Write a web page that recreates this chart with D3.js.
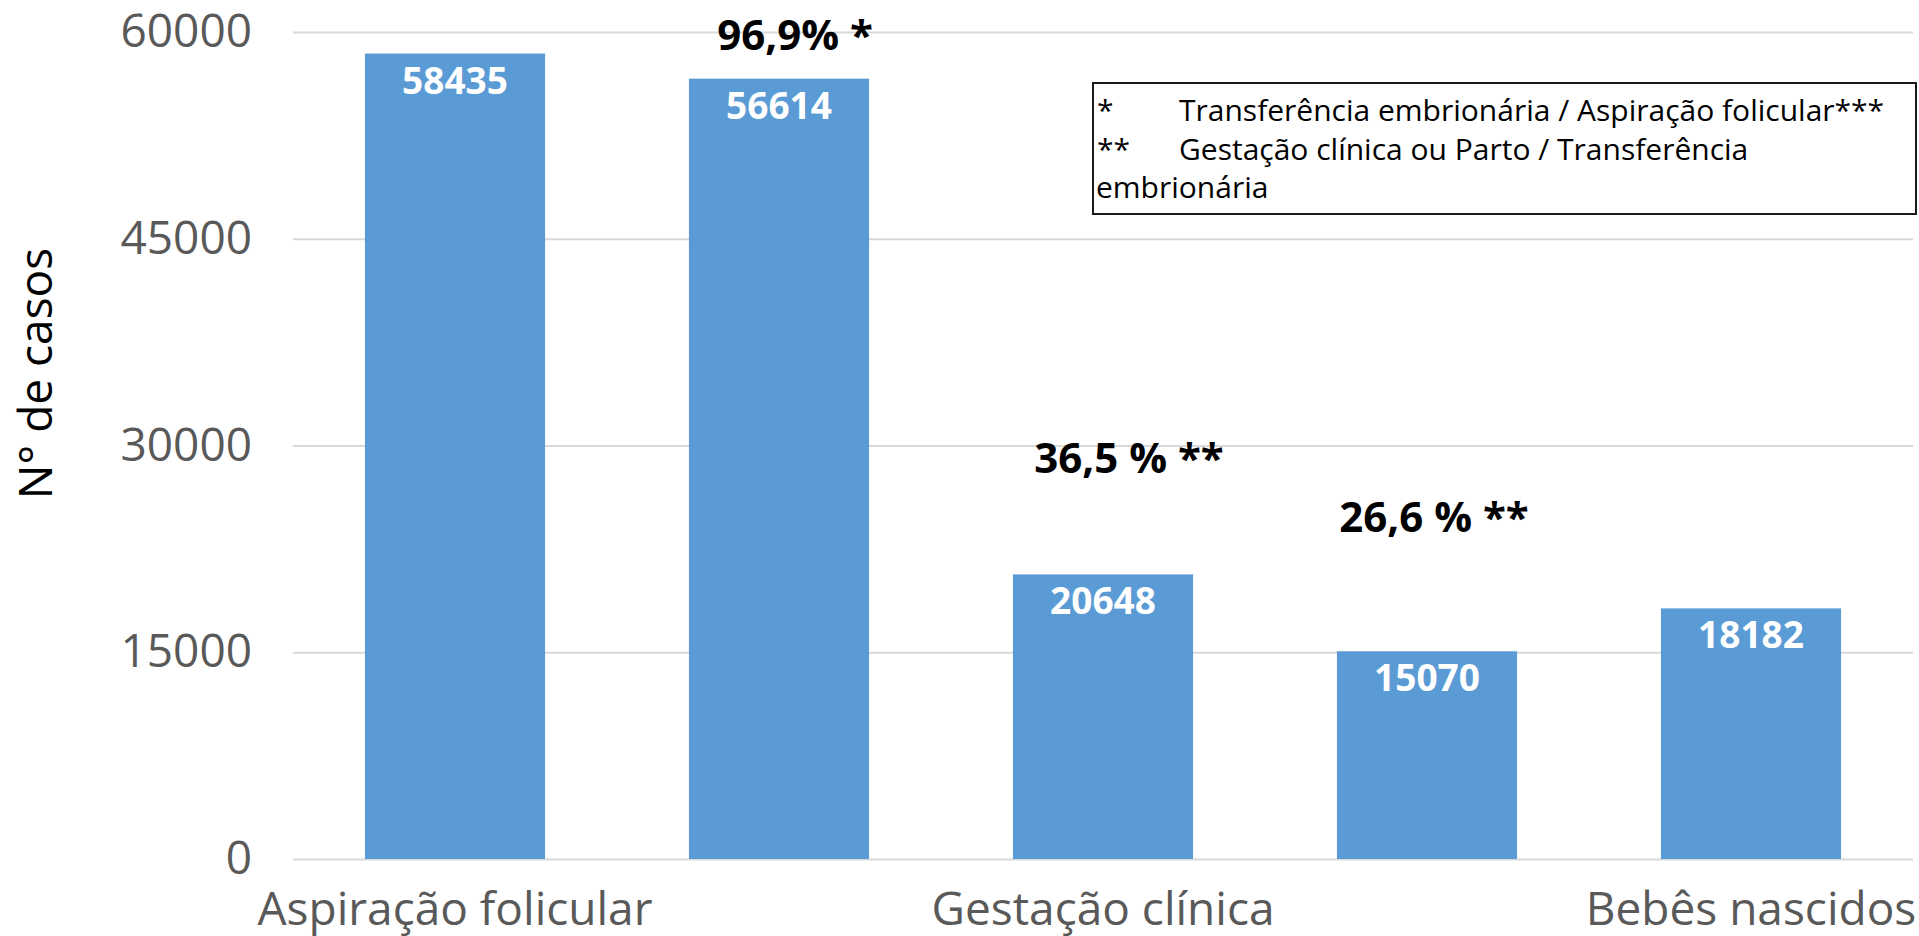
<!DOCTYPE html>
<html>
<head>
<meta charset="utf-8">
<script src="https://cdn.jsdelivr.net/npm/d3@7"></script>
<style>
  body { margin: 0; background: #fff; }
  svg { display: block; font-family: "Open Sans", sans-serif; }
</style>
</head>
<body>
<div id="chart"></div>
<script>
// data
const categories = ["Aspiração folicular", "Transferência embrionária", "Gestação clínica", "Parto", "Bebês nascidos"];
const axisLabels = ["Aspiração folicular", "", "Gestação clínica", "", "Bebês nascidos"];
const casos = [58435, 56614, 20648, 15070, 18182];
const yTicks = [0, 15000, 30000, 45000, 60000];
const rateLabels = ["96,9% *", "36,5 % **", "26,6 % **"];
const rateCategories = ["Transferência embrionária", "Gestação clínica", "Parto"];
const legendMarks = ["*", "**", ""];
const legendLines = ["Transferência embrionária / Aspiração folicular***", "Gestação clínica ou Parto / Transferência", "embrionária"];

// layout
var W = 1919, H = 936;
var plot = {left: 293, right: 1913, top: 32, bottom: 859};
// where the rate notes sit (offset from bar centre, baseline)
var rateLayout = [{dx: 16, y: 50}, {dx: 26, y: 473}, {dx: 7, y: 532}];
var noteBox = {x: 1093, y: 83, w: 1916 - 1093, h: 214 - 83};
var noteLine = {first: 121, step: 38.5, size: 30};

var svg = d3.select("#chart").append("svg")
    .attr("width", W)
    .attr("height", H);

// scales
var x = d3.scaleBand()
    .domain(categories)
    .range([plot.left, plot.right])
    .paddingInner(0.444)
    .paddingOuter(0.222);

var y = d3.scaleLinear()
    .domain([0, 60000])
    .range([plot.bottom, plot.top]);

// gridlines
svg.append("g")
    .attr("transform", "translate(" + plot.left + ",0)")
    .call(d3.axisLeft(y).tickValues(yTicks).tickSize(-(plot.right - plot.left)).tickFormat(""))
    .call(g => g.select(".domain").remove())
    .call(g => g.selectAll("line").attr("stroke", "#d9d9d9").attr("stroke-width", 2));

// y axis labels
svg.append("g")
    .attr("transform", "translate(" + plot.left + ",0)")
    .call(d3.axisLeft(y).tickValues(yTicks).tickSize(0).tickPadding(41).tickFormat(d3.format("d")))
    .call(g => g.select(".domain").remove())
    .call(g => g.selectAll("text")
        .attr("fill", "#595959")
        .style("font-size", "46px")
        .style("font-family", "'Open Sans', sans-serif"));

// x axis labels (Excel skips every other one)
svg.append("g")
    .attr("transform", "translate(0," + plot.bottom + ")")
    .call(d3.axisBottom(x).tickSize(0).tickPadding(33).tickFormat((d, i) => axisLabels[i]))
    .call(g => g.select(".domain").remove())
    .call(g => g.selectAll("text")
        .attr("fill", "#595959")
        .style("font-size", "46px")
        .style("font-family", "'Open Sans', sans-serif"));

// bars
svg.append("g").selectAll("rect")
    .data(casos)
    .join("rect")
    .attr("x", (d, i) => x(categories[i]))
    .attr("y", d => y(d))
    .attr("width", x.bandwidth())
    .attr("height", d => y(0) - y(d))
    .attr("fill", "#5b9bd5");

// values inside the bars
svg.append("g").selectAll("text")
    .data(casos)
    .join("text")
    .attr("x", (d, i) => x(categories[i]) + x.bandwidth() / 2)
    .attr("y", d => y(d) + 40)
    .attr("text-anchor", "middle")
    .attr("fill", "#fff")
    .style("font-size", "37px")
    .style("font-weight", "bold")
    .text(d => d);

// rate notes above the bars
svg.append("g").selectAll("text")
    .data(rateLabels)
    .join("text")
    .attr("x", (d, i) => x(rateCategories[i]) + x.bandwidth() / 2 + rateLayout[i].dx)
    .attr("y", (d, i) => rateLayout[i].y)
    .attr("text-anchor", "middle")
    .attr("fill", "#000")
    .style("font-size", "42px")
    .style("font-weight", "bold")
    .text(d => d);

// y axis title
svg.append("text")
    .attr("transform", "translate(52," + ((250 + 497) / 2) + ") rotate(-90)")
    .attr("text-anchor", "middle")
    .attr("fill", "#000")
    .style("font-size", "46px")
    .text("N° de casos");

// note box
var note = svg.append("g");
note.append("rect")
    .attr("x", noteBox.x)
    .attr("y", noteBox.y)
    .attr("width", noteBox.w)
    .attr("height", noteBox.h)
    .attr("fill", "#fff")
    .attr("stroke", "#1a1a1a")
    .attr("stroke-width", 2);

note.selectAll("text.mark")
    .data(legendMarks)
    .join("text")
    .attr("class", "mark")
    .attr("x", 1097)
    .attr("y", (d, i) => noteLine.first + i * noteLine.step)
    .attr("fill", "#000")
    .style("font-size", noteLine.size + "px")
    .text(d => d);

note.selectAll("text.line")
    .data(legendLines)
    .join("text")
    .attr("class", "line")
    .attr("x", (d, i) => legendMarks[i] ? 1179 : 1096)
    .attr("y", (d, i) => noteLine.first + i * noteLine.step)
    .attr("fill", "#000")
    .style("font-size", noteLine.size + "px")
    .text(d => d);
</script>
</body>
</html>
